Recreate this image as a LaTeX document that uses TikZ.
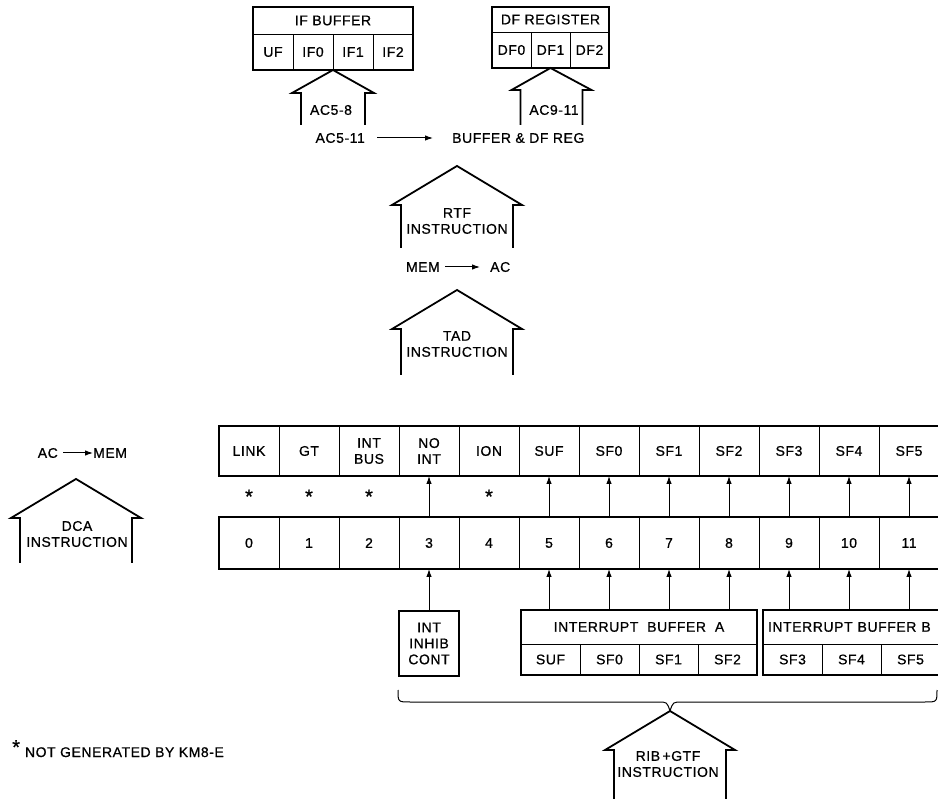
\documentclass[tikz,border=0pt]{standalone}
\usepackage{fontspec}
\setmainfont{Liberation Sans}[LetterSpace=4, FakeBold=0.7]
\usetikzlibrary{arrows.meta,calc,positioning}

\begin{document}
\begin{tikzpicture}[x=1pt, y=-1pt, font=\fontsize{14}{16}\selectfont]
    \tikzset{
        heavy/.style={line width=1.8pt},
        cell/.style={draw, line width=0.9pt, inner sep=0pt, outer sep=0pt, anchor=north west, align=center},
        bitcell/.style={cell, minimum width=60pt},
        sig/.style={line width=1pt, -{Latex[length=8pt, width=5.5pt]}},
        word/.style={inner sep=0pt, align=center}
    }
    \useasboundingbox (0,0) rectangle (938,799);
    \clip (0,0) rectangle (938,799);

    % IF buffer and DF register
    \node[cell, minimum width=160pt, minimum height=27pt] (ifbuf) at (253,7) {IF BUFFER};
    \foreach \lbl [count=\i from 0] in {UF, IF0, IF1, IF2}
        \node[cell, minimum width=40pt, minimum height=36pt] (ifb\i) at ({253+40*\i},34) {\lbl};
    \draw[heavy] (ifbuf.north west) rectangle (ifb3.south east);

    \node[cell, minimum width=117pt, minimum height=25pt] (dfreg) at (492,7) {DF REGISTER};
    \foreach \lbl [count=\i from 0] in {DF0, DF1, DF2}
        \node[cell, minimum width=39pt, minimum height=36pt] (dfr\i) at ({492+39*\i},32) {\lbl};
    \draw[heavy] (dfreg.north west) rectangle (dfr2.south east);

    % small broad arrows into the registers
    \draw[heavy] ($(ifb2.south west)+(-32,55)$) -- ++(0,-32) -- ++(-9,0) -- (ifb2.south west)
        -- ++(41,23) -- ++(-9,0) -- ++(0,32);
    \node[word] (ac58) at (331,110) {AC5-8};
    \draw[heavy] ($(dfr1.south)+(-30,57)$) -- ++(0,-35) -- ++(-9,0) -- (dfr1.south)
        -- ++(41,22) -- ++(-9,0) -- ++(0,35);
    \node[word] (ac911) at (554,110) {AC9-11};

    % transfers
    \node[word, anchor=east] (ac511) at (365,138) {AC5-11};
    \node[word, anchor=west] (bufdf) at (452,138) {BUFFER \& DF REG};
    \draw[sig] ([xshift=12pt]ac511.east) -- ([xshift=-19pt]bufdf.west);

    \node[word, anchor=east] (mem1) at (440,267) {MEM};
    \node[word, anchor=west] (ac1) at (490,267) {AC};
    \draw[sig] ([xshift=5pt]mem1.east) -- ([xshift=-10pt]ac1.west);

    \node[word, anchor=east] (ac2) at (58,453) {AC};
    \node[word, anchor=west] (mem2) at (93,453) {MEM};
    \draw[sig] ([xshift=5pt]ac2.east) -- (mem2.west);

    % instruction arrows
    \coordinate (rtftip) at (457,166);
    \coordinate (tadtip) at (457,290);
    \coordinate (dcatip) at (76,479);
    \coordinate (brM) at (670,711);
    \foreach \tip/\len in {rtftip/43, tadtip/46, dcatip/45, brM/60}
        \draw[heavy] ($(\tip)+(-56,39+\len)$) -- ++(0,-\len) -- ++(-9,0) -- (\tip)
            -- ++(65,39) -- ++(-9,0) -- ++(0,\len);
    \node[word] (rtf) at (457,221) {RTF\\INSTRUCTION};
    \node[word] (tad) at (457,344) {TAD\\INSTRUCTION};
    \node[word] (dca) at (77,534) {DCA\\INSTRUCTION};
    \node[word] (rib) at (668,764) {RIB\,+GTF\\INSTRUCTION};

    % accumulator word
    \foreach \lbl [count=\i from 0] in {LINK, GT, {INT\\BUS}, {NO\\INT}, ION, SUF, SF0, SF1, SF2, SF3, SF4, SF5}
        \node[bitcell, minimum height=50pt] (fld\i) at ({219+60*\i},426) {\lbl};
    \foreach \i in {0,...,11}
        \node[bitcell, minimum height=52pt] (bit\i) at ({219+60*\i},517) {\i};
    \draw[heavy] (fld0.north west) rectangle (fld11.south east);
    \draw[heavy] (bit0.north west) rectangle (bit11.south east);
    \foreach \i in {0,1,2,4}
        \node[word, font=\fontsize{20}{20}\selectfont] (star\i) at ($(fld\i.south)!0.5!(bit\i.north)$) {*};
    \foreach \i in {3,5,6,7,8,9,10,11}
        \draw[sig] (bit\i.north) -- (fld\i.south);

    % sources
    \node[cell, heavy, minimum width=60pt, minimum height=65pt, anchor=north] (inhib) at (429,611) {INT\\INHIB\\CONT};
    \draw[sig] (inhib.north) -- (bit3.south);

    \node[cell, minimum width=236pt, minimum height=34pt] (ibufa) at (521,610) {INTERRUPT~~BUFFER~~A};
    \foreach \lbl [count=\i from 0] in {SUF, SF0, SF1, SF2}
        \node[cell, minimum width=59pt, minimum height=31pt] (ia\i) at ({521+59*\i},644) {\lbl};
    \draw[heavy] (ibufa.north west) rectangle (ia3.south east);
    \foreach \i in {5,6,7,8}
        \draw[sig] (bit\i.south |- ibufa.north) -- (bit\i.south);

    \node[cell, minimum width=236pt, minimum height=34pt, text width=226pt, align=left] (ibufb) at (763,610) {INTERRUPT\hspace{5pt}BUFFER\hspace{5pt}B};
    \foreach \lbl [count=\i from 0] in {SF3, SF4, SF5}
        \node[cell, minimum width=59pt, minimum height=31pt] (ib\i) at ({763+59*\i},644) {\lbl};
    \draw[heavy] (ibufb.north west) rectangle (ibufb.east |- ib2.south);
    \foreach \i in {9,10,11}
        \draw[sig] (bit\i.south |- ibufb.north) -- (bit\i.south);

    % brace
    \coordinate (brL) at (398,690);
    \coordinate (brR) at (937,690);
    \draw[line width=1pt] (brL) .. controls (398,702) .. (410,702) -- (658,702)
        .. controls (667,702) .. (brM) .. controls (673,702) .. (682,702) -- (925,702)
        .. controls (937,702) .. (brR);

    \node[word, anchor=base west] (note) at (12,757) {\raisebox{3pt}{\fontsize{20}{20}\selectfont *}\hspace{5pt}NOT GENERATED BY KM8-E};
\end{tikzpicture}
\end{document}
